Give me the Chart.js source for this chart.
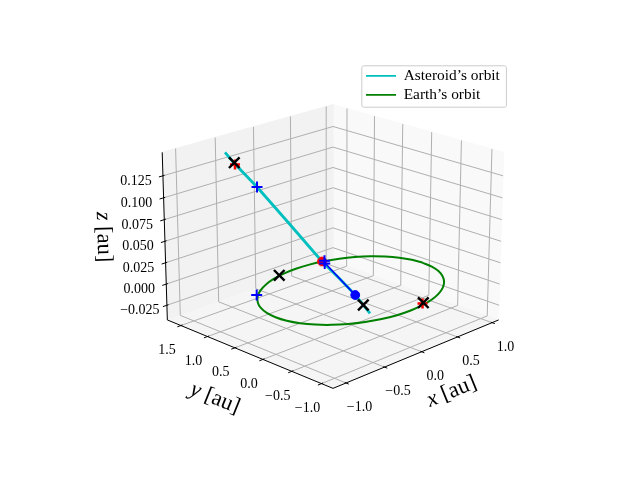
<!DOCTYPE html>
<html><head><meta charset="utf-8">
<script src="https://cdn.jsdelivr.net/npm/chart.js@4"></script>
<style>html,body{margin:0;padding:0;background:#fff}canvas{display:block}</style></head>
<body><canvas id="c" width="640" height="480"></canvas>
<script>
const xLim=[-1.165,1.097], yLim=[-1.19,1.76], zLim=[-0.0425,0.1515];
const xTicks=[-1,-0.5,0,0.5,1], yTicks=[-1,-0.5,0,0.5,1,1.5], zTicks=[-0.025,0,0.025,0.05,0.075,0.1,0.125];
const xTickLabels=['−1.0','−0.5','0.0','0.5','1.0'], yTickLabels=['−1.0','−0.5','0.0','0.5','1.0','1.5'];
const zTickLabels=['−0.025','0.000','0.025','0.050','0.075','0.100','0.125'];
const earthX=[1,0.985,0.94,0.866,0.766,0.643,0.5,0.342,0.174,0,-0.174,-0.342,-0.5,-0.643,-0.766,-0.866,-0.94,-0.985,-1,-0.985,-0.94,-0.866,-0.766,-0.643,-0.5,-0.342,-0.174,0,0.174,0.342,0.5,0.643,0.766,0.866,0.94,0.985,1];
const earthY=[0,0.174,0.342,0.5,0.643,0.766,0.866,0.94,0.985,1,0.985,0.94,0.866,0.766,0.643,0.5,0.342,0.174,0,-0.174,-0.342,-0.5,-0.643,-0.766,-0.866,-0.94,-0.985,-1,-0.985,-0.94,-0.866,-0.766,-0.643,-0.5,-0.342,-0.174,0];
const asteroidOrbit=[[-0.630,1.392,0.145],[-0.617,1.240,0.135],[-0.411,1.128,0.105],[0.006,1.110,0.05],[0.323,0.951,0],[0.301,0.596,-0.012],[0.261,0.271,-0.022],[0.225,-0.036,-0.035]];
const transferArc=[[0.314,0.885,0],[0.301,0.596,-0.012],[0.261,0.271,-0.022]];
const redCircle=[[0.323,0.951,0]];
const blueCircle=[[0.261,0.271,-0.022]];
const redPlus=[[-0.616,1.232,0.134],[0.205,-0.948,0]];
const bluePlus=[[-0.411,1.128,0.105],[-0.745,0.689,0],[0.356,0.949,0],[0.302,0.874,0]];
const blackCross=[[-0.620,1.239,0.136],[-0.237,0.982,0],[0.224,0.081,-0.028],[0.225,-0.937,0]];
const elev=20*Math.PI/180, azim=-135*Math.PI/180, B=[1.19048,1.19048,0.89286];
const w=[Math.cos(elev)*Math.cos(azim),Math.cos(elev)*Math.sin(azim),Math.sin(elev)];
const uN=Math.hypot(w[0],w[1]), u=[-w[1]/uN,w[0]/uN,0];
const v=[w[1]*u[2]-w[2]*u[1],w[2]*u[0]-w[0]*u[2],w[0]*u[1]-w[1]*u[0]];
const eye=[B[0]/2+10*w[0],B[1]/2+10*w[1],B[2]/2+10*w[2]];
const dot=(a,b)=>a[0]*b[0]+a[1]*b[1]+a[2]*b[2];
function P(x,y,z){const p=[(x-xLim[0])/(xLim[1]-xLim[0])*B[0]-eye[0],(y-yLim[0])/(yLim[1]-yLim[0])*B[1]-eye[1],(z-zLim[0])/(zLim[1]-zLim[0])*B[2]-eye[2]];const d=-dot(p,w);return {x:dot(p,u)/d,y:dot(p,v)/d};}
const K=369.6/0.185,OX=333,OY=237.4;
const cd=[];
function add(o){o.order=-cd.length;cd.push(o);}
function line(pts,col,lw,extra){add(Object.assign({data:pts.map(p=>P(...p)),showLine:true,borderColor:col,backgroundColor:col,borderWidth:lw,pointRadius:0,tension:0,clip:false},extra||{}));}
const [x0,x1]=xLim,[y0,y1]=yLim,[z0,z1]=zLim;
line([[x1,y0,z0],[x1,y1,z0],[x1,y1,z1],[x1,y0,z1],[x1,y0,z0]],'#f9f9f9',1,{fill:'shape'});
line([[x0,y1,z0],[x1,y1,z0],[x1,y1,z1],[x0,y1,z1],[x0,y1,z0]],'#f2f2f2',1,{fill:'shape'});
line([[x0,y0,z0],[x1,y0,z0],[x1,y1,z0],[x0,y1,z0],[x0,y0,z0]],'#f5f5f5',1,{fill:'shape'});
const GC='#b0b0b0';
xTicks.forEach(t=>line([[t,y0,z0],[t,y1,z0],[t,y1,z1]],GC,1));
yTicks.forEach(t=>line([[x0,t,z0],[x1,t,z0],[x1,t,z1]],GC,1));
zTicks.forEach(t=>line([[x0,y1,t],[x1,y1,t],[x1,y0,t]],GC,1));
line([[x0,y0,z0],[x1,y0,z0]],'#000',1);line([[x0,y0,z0],[x0,y1,z0]],'#000',1);line([[x0,y1,z0],[x0,y1,z1]],'#000',1);
xTicks.forEach(t=>line([[t,y0-0.045,z0],[t,y0+0.02,z0]],'#000',1));
yTicks.forEach(t=>line([[x0-0.045,t,z0],[x0+0.02,t,z0]],'#000',1));
zTicks.forEach(t=>line([[x0-0.05,y1,t],[x0+0.02,y1,t]],'#000',1));
add({label:"Asteroid’s orbit",data:asteroidOrbit.map(p=>P(...p)),showLine:true,borderColor:'#00bfbf',backgroundColor:'#00bfbf',borderWidth:2.8,pointRadius:0,tension:0,clip:false});
add({label:"Earth’s orbit",data:earthX.map((x,i)=>P(x,earthY[i],0)),showLine:true,borderColor:'#008000',backgroundColor:'#008000',borderWidth:2,pointRadius:0,tension:0.3,clip:false});
line(transferArc,'#0000ff',1.5);
function mk(pts,style,r,col,lw){add({data:pts.map(p=>P(...p)),showLine:false,pointStyle:style,pointRadius:r,pointHoverRadius:r,borderColor:col,backgroundColor:col,pointBorderWidth:lw,borderWidth:lw,clip:false});}
mk(redCircle,'circle',4.4,'#ff0000',1);
mk(blueCircle,'circle',4.4,'#0000ff',1);
mk(redPlus,'cross',5,'#ff0000',2.5);
mk(bluePlus,'cross',5.5,'#0000ff',2);
mk(blackCross,'crossRot',7.5,'#000',2.4);
const F='"Liberation Serif"';
function label(ctx,pl,cx,cy,rot,size){ctx.save();ctx.translate(cx,cy);ctx.rotate(rot);ctx.textBaseline='middle';ctx.textAlign='left';ctx.fillStyle='#000';ctx.font=`italic ${size}px ${F}`;const a=ctx.measureText(pl).width;ctx.font=`${size}px ${F}`;const b=ctx.measureText(' [au]').width;const s=-(a+b)/2;ctx.font=`italic ${size}px ${F}`;ctx.fillText(pl,s,0);ctx.font=`${size}px ${F}`;ctx.fillText(' [au]',s+a,0);ctx.restore();}
const texts={id:'texts',
 beforeDraw(ch){const L=ch.legend;L.left=362.4;L.right=L.left+144;L.top=64.6;L.bottom=L.top+44;
  const c=ch.ctx;c.save();c.beginPath();c.roundRect(361.8,65.8,144.6,41.4,2);c.fillStyle='rgba(255,255,255,.8)';c.fill();c.strokeStyle='#cccccc';c.lineWidth=1;c.stroke();c.restore();},
 afterDraw(ch){const c=ch.ctx,sx=ch.scales.x,sy=ch.scales.y;const px=(x,y,z)=>{const p=P(x,y,z);return [sx.getPixelForValue(p.x),sy.getPixelForValue(p.y)];};
  c.save();c.fillStyle='#000';c.font=`14px ${F}`;c.textAlign='center';c.textBaseline='middle';
  xTicks.forEach((t,i)=>{const q=px(t,y0,z0);c.fillText(xTickLabels[i],q[0]+13.5,q[1]+24.5);});
  yTicks.forEach((t,i)=>{const q=px(x0,t,z0);c.fillText(yTickLabels[i],q[0]-14,q[1]+25);});
  zTicks.forEach((t,i)=>{const q=px(x0,y1,t);c.fillText(zTickLabels[i],q[0]-27,q[1]+5.5);});
  c.restore();
  label(c,'x',451.7,391.7,-22*Math.PI/180,22.5);
  label(c,'y',215,398.3,22*Math.PI/180,22.5);
  label(c,'z',103.5,237,88.3*Math.PI/180,22.5);
 }};
new Chart(document.getElementById('c'),{type:'scatter',data:{datasets:cd},plugins:[texts],options:{
 responsive:false,animation:false,devicePixelRatio:1,layout:{padding:0,autoPadding:false},
 scales:{x:{display:false,min:-OX/K,max:(640-OX)/K},y:{display:false,min:-(480-OY)/K,max:OY/K}},
 plugins:{tooltip:{enabled:false},legend:{display:true,position:'chartArea',align:'start',
  labels:{font:{family:'Liberation Serif',size:15.4},color:'#000',boxWidth:30,boxHeight:0,padding:3.6,sort:(a,b)=>a.datasetIndex-b.datasetIndex,
   generateLabels(ch){return Chart.defaults.plugins.legend.labels.generateLabels(ch).filter(i=>!!i.text).map(i=>Object.assign(i,{lineWidth:1.6}));}}}}}});
</script>
</body></html>
